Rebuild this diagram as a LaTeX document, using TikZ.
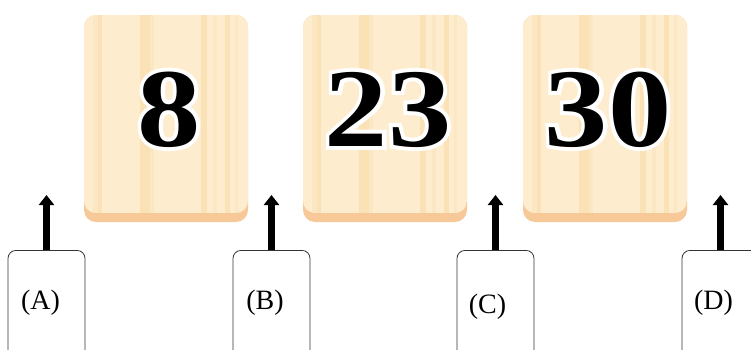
\documentclass[tikz,border=0pt]{standalone}
\usepackage{fontspec}
\setmainfont{Liberation Serif}
\newfontfamily\digitfont{Liberation Serif}[BoldFeatures={FakeStretch=1.13}]
\newfontfamily\digitoutline{Liberation Serif}[BoldFeatures={FakeStretch=1.13,FakeBold=7}]
\usetikzlibrary{arrows.meta}
\definecolor{tileface}{RGB}{254,236,206}
\definecolor{tilestripe}{RGB}{251,225,182}
\definecolor{tilestripeb}{RGB}{252,231,196}
\definecolor{tileedge}{RGB}{247,201,152}
\tikzset{
  digit/.style={font=\fontsize{112}{112}\digitfont\bfseries, inner sep=0pt, anchor=base},
  digitback/.style={font=\fontsize{112}{112}\digitoutline\bfseries, text=white, inner sep=0pt, anchor=base},
  ansbox/.style={draw=black!80, line width=0.8pt, fill=white, rounded corners=8pt,
    minimum width=77pt, minimum height=130pt, anchor=north, inner sep=0pt},
  anslabel/.style={font=\fontsize{28}{28}\selectfont, inner sep=0pt},
  uparrow/.style={line width=6.5pt, -{Triangle[width=15pt,length=10pt]}}
}
\newcommand\woodtile[3]{%
  \begin{scope}[shift={(#1,0)}]
    \fill[tileedge, rounded corners=12pt] (0,15) rectangle (164,222);
    \begin{scope}
      \clip[rounded corners=12pt] (0,15) rectangle (164,213);
      \fill[tileface] (0,15) rectangle (164,213);
      \fill[tilestripeb] (9,15) rectangle (14,213);
      \fill[tilestripe] (14,15) rectangle (18,213);
      \fill[tilestripe] (56,15) rectangle (66,213);
      \fill[tilestripeb] (66,15) rectangle (70,213);
      \fill[tilestripe] (117,15) rectangle (123,213);
      \fill[tilestripeb] (129,15) rectangle (133,213);
      \fill[tilestripe] (141,15) rectangle (146,213);
      \fill[tilestripeb] (151,15) rectangle (154,213);
    \end{scope}
    \node[digitback] (#2o) at (85,146) {#3};
    \node[digit, text=black] (#2) at (85,146) {#3};
  \end{scope}}
\begin{document}
\begin{tikzpicture}[x=1pt,y=-1pt]
\useasboundingbox (0,0) rectangle (751,349);
\clip (0,0) rectangle (751,349);
\fill[white] (0,0) rectangle (751,349);

\woodtile{84}{t1}{8}
\woodtile{303}{t2}{23}
\woodtile{523}{t3}{30}

\node[ansbox] (boxA) at (46.5,250) {};
\node[ansbox] (boxB) at (271.5,250) {};
\node[ansbox] (boxC) at (495.5,250) {};
\node[ansbox] (boxD) at (720.5,250) {};

\node[anslabel] (labA) at (40.5,303) {(A)};
\node[anslabel] (labB) at (265,303) {(B)};
\node[anslabel] (labC) at (487.5,307) {(C)};
\node[anslabel] (labD) at (713.5,303) {(D)};

\coordinate (tipA) at (46.5,195);
\coordinate (tipB) at (271.5,195);
\coordinate (tipC) at (495.5,195);
\coordinate (tipD) at (720.5,195);

\draw[uparrow] (boxA.north) -- (tipA);
\draw[uparrow] (boxB.north) -- (tipB);
\draw[uparrow] (boxC.north) -- (tipC);
\draw[uparrow] (boxD.north) -- (tipD);
\end{tikzpicture}
\end{document}
